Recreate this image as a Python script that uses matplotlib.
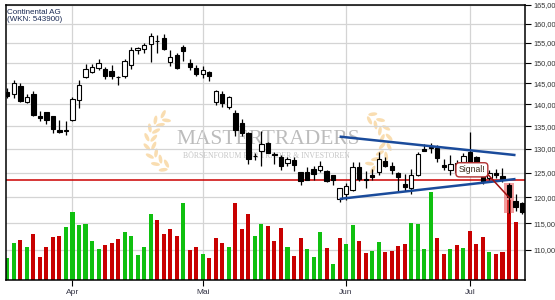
import numpy as np
import pandas as pd
import matplotlib
matplotlib.use("Agg")
from matplotlib import pyplot as plt
from matplotlib.patches import Ellipse, Rectangle
from matplotlib.ticker import NullLocator, NullFormatter

plt.rcParams['font.family'] = ['Liberation Sans', 'DejaVu Sans']

# trading days (Xetra) 18.03.2019 - 11.07.2019
holidays = ["2019-04-19", "2019-04-22", "2019-05-01", "2019-06-10"]
dates = pd.bdate_range("2019-03-18", "2019-07-11", freq="C", holidays=holidays)
month_names = {3: "Mär", 4: "Apr", 5: "Mai", 6: "Jun", 7: "Jul"}

opens = [142.9, 142.4, 144.3, 140.5, 142.4, 137.4, 138.2, 137.2, 134.1, 134.0,
         136.4, 141.0, 146.4, 147.8, 148.6, 148.4, 148.0, 146.5, 146.6, 149.4,
         153.2, 153.4, 154.6, 155.5, 156.1, 150.2, 151.9, 154.0, 149.8, 148.6,
         147.1, 147.6, 140.5, 142.4, 139.3, 137.9, 135.8, 133.4, 128.6, 129.6,
         131.3, 129.0, 128.2, 127.0, 127.7, 125.1, 125.1, 125.7, 125.6, 125.4,
         124.5, 119.6, 120.7, 121.4, 126.2, 123.7, 124.6, 125.1, 127.5, 126.5,
         125.0, 122.7, 121.8, 124.5, 130.0, 130.4, 130.3, 126.6, 125.5, 127.0,
         127.3, 129.4, 128.3, 124.8, 123.9, 125.0, 124.4, 122.5, 119.3, 118.9]
highs = [143.7, 145.7, 144.9, 142.4, 143.1, 138.5, 138.3, 137.4, 136.4, 136.2,
         141.6, 145.7, 149.6, 149.6, 150.8, 148.8, 149.4, 146.8, 151.0, 153.8,
         153.9, 154.9, 157.4, 157.0, 157.2, 153.2, 152.5, 154.5, 150.8, 149.4,
         149.2, 148.0, 143.3, 143.2, 141.9, 138.7, 136.6, 133.7, 129.2, 133.9,
         131.6, 129.4, 128.8, 128.3, 128.3, 125.2, 126.1, 126.4, 127.5, 125.6,
         124.6, 121.9, 122.8, 127.2, 127.2, 125.4, 125.8, 129.3, 128.2, 127.2,
         125.2, 124.7, 125.8, 129.4, 131.0, 131.3, 130.8, 127.8, 128.7, 127.6,
         129.1, 133.8, 128.6, 125.0, 125.6, 125.7, 126.0, 122.9, 120.7, 119.0]
lows = [141.4, 141.4, 140.6, 140.2, 137.3, 136.2, 135.6, 133.4, 133.5, 133.1,
        136.2, 139.1, 146.3, 147.4, 148.2, 146.0, 146.0, 144.6, 146.1, 148.4,
        152.1, 152.4, 150.2, 152.4, 153.2, 149.2, 148.4, 150.4, 148.2, 146.7,
        146.1, 145.5, 139.8, 139.4, 138.9, 132.8, 132.8, 126.9, 127.6, 126.3,
        129.1, 126.9, 125.5, 126.3, 125.4, 122.4, 123.5, 123.5, 125.1, 123.1,
        122.4, 119.0, 119.5, 121.2, 123.3, 121.8, 123.5, 124.6, 126.1, 124.8,
        121.2, 121.3, 120.6, 124.3, 129.6, 129.2, 127.3, 125.6, 124.6, 124.9,
        126.8, 126.5, 125.9, 122.6, 123.4, 123.9, 123.0, 117.0, 117.4, 116.8]
closes = [141.9, 144.9, 140.8, 141.6, 137.5, 136.8, 136.4, 134.4, 133.7, 134.1,
          141.2, 144.5, 148.4, 148.8, 149.8, 146.6, 146.8, 146.4, 150.4, 153.2,
          153.6, 154.5, 156.7, 155.4, 153.4, 151.3, 148.6, 153.0, 149.0, 147.3,
          148.2, 146.8, 143.1, 140.4, 141.8, 134.1, 133.5, 127.8, 128.5, 131.0,
          129.2, 128.8, 126.5, 127.8, 126.6, 123.3, 123.5, 124.7, 126.4, 123.2,
          123.5, 121.8, 122.3, 126.1, 123.8, 123.6, 124.2, 127.9, 126.4, 125.6,
          124.2, 122.0, 124.5, 128.9, 129.6, 130.2, 128.0, 126.1, 126.8, 125.2,
          128.5, 127.3, 126.3, 123.1, 124.9, 124.6, 123.8, 120.0, 118.2, 117.2]

# volume in 1000 shares, last day has no bar
volume = [264, 444, 480, 396, 552, 276, 396, 516, 528, 636,
          816, 660, 672, 468, 372, 420, 444, 492, 576, 528,
          300, 396, 792, 720, 552, 612, 528, 924, 360, 396,
          312, 264, 504, 444, 396, 924, 612, 792, 528, 672,
          648, 468, 624, 396, 288, 504, 372, 276, 576, 384,
          192, 504, 432, 660, 468, 324, 348, 456, 336, 348,
          408, 432, 684, 672, 372, 1056, 504, 312, 372, 420,
          384, 588, 432, 516, 336, 312, 336, 960, 696, np.nan]
vol_up = "GGRGRRRRRGGGGGGRRRGGGGGRRRRGRRGRRRGRRRGGRRRGRRGGGRGRGGRRGGRRRRGGGGRRGRGRRRGRRRR"

support = 123.4
upper_trend = ([51, 78], [132.7, 128.7])
lower_trend = ([51, 78], [119.7, 123.7])
signal_day = 77
price_ticks = [110, 115, 120, 125, 130, 135, 140, 145, 150, 155, 160, 165]

x = np.arange(len(dates))
o = np.array(opens)
h = np.array(highs)
l = np.array(lows)
c = np.array(closes)
vol = np.array(volume, dtype=float)

fig = plt.figure(figsize=(5.55, 3.0), dpi=100)

# watermark in the background (pixel coordinates)
axw = fig.add_axes([0, 0, 1, 1], zorder=-1)
axw.set_xlim(0, 555)
axw.set_ylim(300, 0)
axw.axis("off")
leaf = "#f8d8a4"
for cx, a0, a1 in [(178, 118, 242), (358, -62, 62)]:
    for a in np.linspace(a0, a1, 8):
        t = np.deg2rad(a)
        for side in (-1, 1):
            r = 28 + side * 3.5
            px = cx + r * np.cos(t)
            py = 142 - r * np.sin(t)
            axw.add_patch(Ellipse((px, py), 9, 3.6, angle=-(a + 90 + side * 35),
                                  fc=leaf, ec="none", alpha=0.85))
axw.text(268, 139, "MASTERTRADERS", family="Liberation Serif", fontsize=15.5,
         color="#bcbcbc", ha="center", va="center")
axw.text(266, 156.5, "BÖRSENFORUM FÜR TRADER & INVESTOREN", family="Liberation Serif",
         fontsize=5.6, color="#c4c4c4", ha="center", va="center")

ax = fig.add_axes([5.7 / 555, 20 / 300, 519.6 / 555, 275 / 300])
ax.set_facecolor("none")
ax.set_yscale("log")

# volume bars at the bottom
vcol = ["#10c010" if s == "G" else "#c80000" for s in vol_up]
vcol.append("#c80000")
ax.bar(x, vol / 3300, width=0.62, bottom=0, color=vcol,
       transform=ax.get_xaxis_transform(), zorder=1)

ax.axhline(support, color="#cc0000", lw=1.1, zorder=2)

# highlight of the signal candle
ax.add_patch(Rectangle((signal_day - 0.77, l[signal_day]), 1.54,
                       h[signal_day] - l[signal_day], fc="#ee5a5a", ec="none",
                       alpha=0.6, zorder=2.5))

# candles
ax.vlines(x, l, h, color="black", lw=0.9, zorder=3)
body_col = ["white" if cc >= oo else "black" for oo, cc in zip(o, c)]
ax.bar(x, np.abs(c - o), bottom=np.minimum(o, c), width=0.66, color=body_col,
       edgecolor="black", linewidth=0.8, zorder=3.1)

ax.plot(*upper_trend, color="#1a4b9b", lw=1.8, zorder=4, solid_capstyle="butt")
ax.plot(*lower_trend, color="#1a4b9b", lw=1.8, zorder=4, solid_capstyle="butt")

ax.annotate("Signal!", xy=(signal_day, c[signal_day]), xytext=(71.3, 125.6),
            textcoords="data", ha="center", va="center", fontsize=6.2, color="#3a2a1a",
            bbox=dict(boxstyle="round,pad=0.3,rounding_size=0.4", fc="white",
                      ec="#b03030", lw=1.0),
            arrowprops=dict(arrowstyle="-", color="#a01010", lw=1.1,
                            relpos=(1.0, 0.3), shrinkA=0, shrinkB=0),
            zorder=5)

ax.text(0.003, 0.987, "Continental AG\n(WKN: 543900)", transform=ax.transAxes,
        ha="left", va="top", fontsize=5.8, color="#1b2b55", linespacing=1.1)

# axes
ax.set_xlim(-0.25, 79.5)
ax.set_ylim(104.66, 165)
ax.yaxis.tick_right()
ax.set_yticks(price_ticks)
ax.set_yticklabels([f"{p:.2f}".replace(".", ",") for p in price_ticks])
ax.yaxis.set_minor_locator(NullLocator())
ax.yaxis.set_minor_formatter(NullFormatter())

month_pos = [i for i in range(1, len(dates)) if dates[i].month != dates[i - 1].month]
ax.set_xticks(month_pos)
ax.set_xticklabels([month_names[dates[i].month] for i in month_pos])

ax.grid(True, color="#d4d4d4", lw=0.9)
ax.set_axisbelow(True)
ax.tick_params(axis="y", direction="out", length=4, width=0.8, pad=1.5,
               labelsize=5.3, labelcolor="#333333")
ax.tick_params(axis="x", direction="out", length=4, width=0.8, pad=2.5,
               labelsize=6, labelcolor="#333344")
for s in ax.spines.values():
    s.set_color("black")
    s.set_linewidth(1.1)

fig.savefig("out.png", dpi=100)
